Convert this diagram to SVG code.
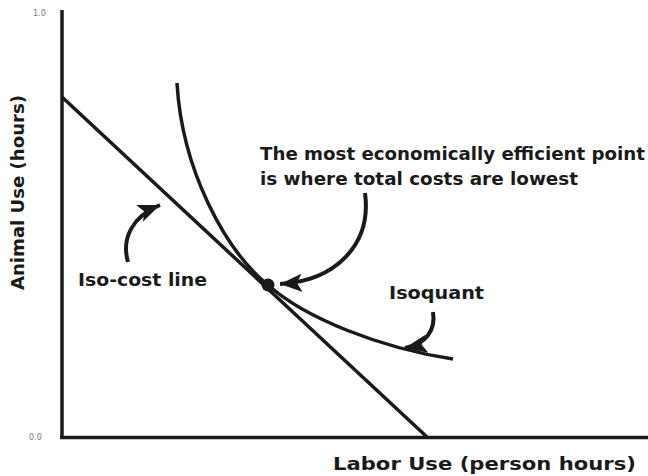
<svg xmlns="http://www.w3.org/2000/svg" width="648" height="476" viewBox="0 0 648 476">
<style>
.t{font-family:"DejaVu Sans","Verdana",sans-serif;font-weight:bold;font-size:17px;fill:#1a1a1a}
.tick{font-family:"DejaVu Sans",sans-serif;font-size:8px;fill:#777}
.ln{fill:none;stroke:#1a1a1a;stroke-width:3.5;stroke-linecap:butt}
.arr{fill:none;stroke:#1a1a1a;stroke-width:4;marker-end:url(#ah)}
</style>
<defs>
<marker id="ah" markerUnits="userSpaceOnUse" markerWidth="24" markerHeight="20" viewBox="0 0 24 20" refX="22" refY="10" orient="auto">
<path d="M0,1 L22,10 L0,19 L5,10 Z" fill="#1a1a1a"/>
</marker>
</defs>
<rect width="648" height="476" fill="#fff"/>
<g id="axes">
<line class="ln" x1="62" y1="10" x2="62" y2="439" stroke-width="3"/>
<line class="ln" x1="60" y1="437.5" x2="648" y2="437.5" stroke-width="3"/>
<text class="tick" x="33" y="16">1.0</text>
<text class="tick" x="29" y="440">0.0</text>
<text class="t" transform="translate(24,290) rotate(-90)" textLength="195" lengthAdjust="spacingAndGlyphs">Animal Use (hours)</text>
<text class="t" x="333" y="470" textLength="303" lengthAdjust="spacingAndGlyphs">Labor Use (person hours)</text>
</g>
<g id="isocost">
<line class="ln" x1="62" y1="97" x2="427" y2="437"/>
</g>
<g id="isoquant">
<path class="ln" d="M177,83 C182,170 225,250 268,285 C305,318 380,348 453,359"/>
</g>
<g id="point">
<circle cx="268" cy="285" r="6.5" fill="#1a1a1a"/>
</g>
<g id="labels">
<text class="t" x="260" y="160" textLength="385" lengthAdjust="spacingAndGlyphs">The most economically efficient point</text>
<text class="t" x="260" y="185" textLength="318" lengthAdjust="spacingAndGlyphs">is where total costs are lowest</text>
<text class="t" x="78" y="286" textLength="129" lengthAdjust="spacingAndGlyphs">Iso-cost line</text>
<text class="t" x="389" y="299" textLength="95" lengthAdjust="spacingAndGlyphs">Isoquant</text>
</g>
<g id="connectors">
<path class="arr" d="M128,262 C121,238 133,216 160,205"/>
<path class="arr" d="M365,193 C372,245 335,281 280,284"/>
<path class="arr" d="M433,312 C436,330 426,344 405,348"/>
</g>
</svg>
